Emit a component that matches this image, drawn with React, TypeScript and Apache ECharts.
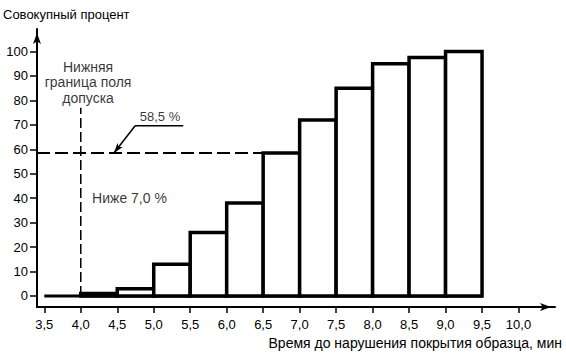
import React, { useEffect, useRef } from 'react';
import * as echarts from 'echarts';

// Histogram bins (minutes) and cumulative percentage
const binStart = [4.0, 4.5, 5.0, 5.5, 6.0, 6.5, 7.0, 7.5, 8.0, 8.5, 9.0];
const binEnd = [4.5, 5.0, 5.5, 6.0, 6.5, 7.0, 7.5, 8.0, 8.5, 9.0, 9.5];
const cumulativePct = [1, 3, 13, 26, 38, 58.5, 72, 85, 95, 97.5, 100];

// Axis ticks
const xTicks = [3.5, 4.0, 4.5, 5.0, 5.5, 6.0, 6.5, 7.0, 7.5, 8.0, 8.5, 9.0, 9.5, 10.0];
const yTicks = [0, 10, 20, 30, 40, 50, 60, 70, 80, 90, 100];
const xMin = 3.4;
const xMax = 10.5;
const yMin = -4.5;
const yMax = 109.2;

// Baseline and reference lines
const baselineX = [3.5, 9.5];
const lowerLimitX = 4.0;
const lowerLimitTop = 77;
const refLevel = 58.5;
const refLevelEndX = 6.5;

// Annotation leader (58,5 %)
const leaderTip = [4.455, 58.5];
const leaderElbow = [4.745, 69.6];
const leaderEnd = [5.405, 69.6];

// Texts
const yTitle = 'Совокупный процент';
const xTitle = 'Время до нарушения покрытия образца, мин';
const limitText = 'Нижняя\nграница поля\nдопуска';
const limitTextPos = [4.1, 87.4];
const belowText = 'Ниже 7,0 %';
const belowTextPos = [4.155, 40.1];
const refText = '58,5 %';
const refTextPos = [5.086, 73.4];

const FONT = '"Liberation Sans", Arial, sans-serif';
const fmt = (v: number) => v.toFixed(1).replace('.', ',');

export default function App() {
  const ref = useRef<HTMLDivElement>(null);
  useEffect(() => {
    if (!ref.current) return;
    const chart = echarts.init(ref.current, undefined, { renderer: 'svg' });
    const bars = binStart.map((s, i) => [s, binEnd[i], cumulativePct[i]]);
    const textStyle = { fontFamily: FONT, fontSize: 13, color: '#000' };
    chart.setOption({
      animation: false,
      backgroundColor: '#fff',
      textStyle: { fontFamily: FONT },
      title: {
        text: yTitle,
        left: 3,
        top: 8,
        padding: 0,
        textStyle: { ...textStyle, fontWeight: 'normal' },
      },
      grid: { left: 37, right: 11, top: 29, bottom: 48 },
      xAxis: {
        type: 'value',
        min: xMin,
        max: xMax,
        name: xTitle,
        nameLocation: 'end',
        nameGap: 7,
        nameTextStyle: { ...textStyle, fontSize: 14, align: 'right', verticalAlign: 'top', padding: [29, 0, 0, 0] },
        axisLine: {
          show: true,
          onZero: false,
          symbol: ['none', 'arrow'],
          symbolSize: [6, 11],
          symbolOffset: [0, -4],
          lineStyle: { color: '#000', width: 2 },
        },
        axisTick: {
          show: true,
          customValues: xTicks,
          length: 6,
          lineStyle: { color: '#000', width: 1.5 },
        },
        axisLabel: {
          customValues: xTicks,
          formatter: (v: number) => fmt(v),
          margin: 11,
          ...textStyle,
        },
        splitLine: { show: false },
      },
      yAxis: {
        type: 'value',
        min: yMin,
        max: yMax,
        axisLine: {
          show: true,
          onZero: false,
          symbol: ['none', 'arrow'],
          symbolSize: [6, 11],
          symbolOffset: [0, -4],
          lineStyle: { color: '#000', width: 2 },
        },
        axisTick: {
          show: true,
          customValues: yTicks,
          length: 7,
          lineStyle: { color: '#000', width: 1.5 },
        },
        axisLabel: {
          customValues: yTicks,
          formatter: (v: number) => String(v),
          margin: 9,
          ...textStyle,
        },
        splitLine: { show: false },
      },
      series: [
        {
          type: 'line',
          data: baselineX.map((x) => [x, 0]),
          symbol: 'none',
          lineStyle: { color: '#000', width: 3 },
          z: 3,
        },
        {
          type: 'custom',
          data: bars,
          z: 4,
          renderItem: (params: any, api: any) => {
            const p0 = api.coord([api.value(0), api.value(2)]);
            const p1 = api.coord([api.value(1), 0]);
            return {
              type: 'rect',
              shape: { x: p0[0], y: p0[1], width: p1[0] - p0[0], height: p1[1] - p0[1] },
              style: { fill: '#fff', stroke: '#000', lineWidth: 3.5 },
            };
          },
        },
        {
          type: 'line',
          data: [
            [lowerLimitX, 0],
            [lowerLimitX, lowerLimitTop],
          ],
          symbol: 'none',
          lineStyle: { color: '#000', width: 1.5, type: [10, 4] },
          z: 5,
        },
        {
          type: 'line',
          data: [
            [xMin, refLevel],
            [refLevelEndX, refLevel],
          ],
          symbol: 'none',
          lineStyle: { color: '#000', width: 2, type: [13, 5] },
          z: 5,
        },
        {
          type: 'line',
          data: [leaderElbow, leaderEnd],
          symbol: 'none',
          lineStyle: { color: '#000', width: 1.5 },
          z: 6,
          markLine: {
            silent: true,
            symbol: ['arrow', 'none'],
            symbolSize: [5, 10],
            label: { show: false },
            lineStyle: { color: '#000', width: 1.5, type: 'solid' },
            data: [[{ coord: leaderTip }, { coord: leaderElbow }]],
          },
        },
        {
          type: 'scatter',
          symbolSize: 0,
          z: 7,
          data: [
            {
              value: limitTextPos,
              label: {
                show: true,
                position: 'inside',
                formatter: limitText,
                align: 'center',
                ...textStyle,
                fontSize: 14,
                lineHeight: 15.5,
              },
            },
            {
              value: belowTextPos,
              label: {
                show: true,
                position: 'right',
                distance: 0,
                formatter: belowText,
                ...textStyle,
                fontSize: 14,
              },
            },
            {
              value: refTextPos,
              label: {
                show: true,
                position: 'inside',
                formatter: refText,
                ...textStyle,
              },
            },
          ],
        },
      ],
    });
    return () => chart.dispose();
  }, []);
  return (
    <div
      ref={ref}
      style={{ position: 'fixed', left: 0, top: 0, width: 566, height: 355, background: '#fff' }}
    />
  );
}
